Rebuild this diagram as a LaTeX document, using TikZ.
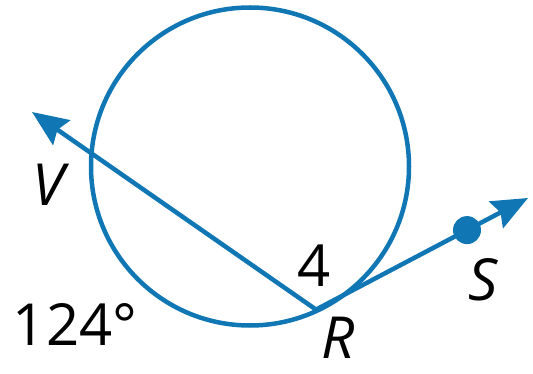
\documentclass[tikz,border=0pt]{standalone}
\usepackage{fontspec}
\setmainfont{Open Sans}
\usetikzlibrary{arrows.meta}
\definecolor{geoblue}{RGB}{16,118,180}
\tikzset{
  geoline/.style={draw=geoblue, line width=4.5pt},
  geoarrow/.style={geoline, -{Stealth[length=36pt,width=30pt,inset=5pt]}},
  lbl/.style={font=\fontsize{58}{58}\selectfont, text=black, inner sep=0pt}
}
\begin{document}
\begin{tikzpicture}[x=1pt,y=-1pt]
\useasboundingbox (0,0) rectangle (533,374);
\coordinate (C) at (250,166.5);
\draw[geoline] (C) circle (159);
\coordinate (R) at (316,309.6);
\coordinate (Vtip) at (32,112);
\coordinate (Stip) at (528,198);
\coordinate (S) at (467,230.1);
\draw[geoarrow] (R) -- (Vtip);
\draw[geoarrow] (R) -- (Stip);
\fill[geoblue] (S) circle (14);
\node[lbl] (Vlab) at (48,185) {\itshape V};
\node[lbl] (Rlab) at (338,338) {\itshape R};
\node[lbl] (Slab) at (483,280) {\itshape S};
\node[lbl] (four) at (314,266) {4};
\node[lbl] (arc) at (75,324) {124°};
\end{tikzpicture}
\end{document}
